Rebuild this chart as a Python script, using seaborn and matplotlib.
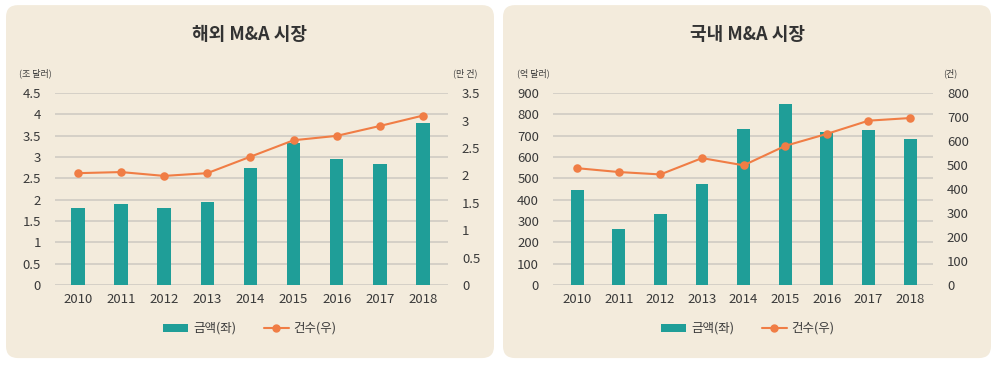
import matplotlib
matplotlib.use('Agg')
import matplotlib.pyplot as plt
import seaborn as sns
import pandas as pd
from matplotlib.patches import FancyBboxPatch
from matplotlib.lines import Line2D
from matplotlib.patches import Patch

# data
years = ['2010', '2011', '2012', '2013', '2014', '2015', '2016', '2017', '2018']

# 해외 M&A 시장
global_amount = [1.81, 1.89, 1.81, 1.94, 2.75, 3.33, 2.96, 2.83, 3.79]   # 조 달러
global_count = [2.04, 2.06, 1.99, 2.04, 2.34, 2.64, 2.72, 2.90, 3.09]    # 만 건

# 국내 M&A 시장
domestic_amount = [444, 264, 334, 475, 733, 850, 717, 725, 686]          # 억 달러
domestic_count = [487, 471, 461, 529, 499, 580, 630, 685, 696]           # 건

sns.set_theme(style='white')
plt.rcParams['font.family'] = ['Noto Sans CJK KR', 'DejaVu Sans']

BG = '#f3ebdc'
TEAL = '#1f9e98'
ORANGE = '#f07d45'
GRID = '#cdc9c1'
TEXT = '#3a3a3a'

fig = plt.figure(figsize=(10, 3.65), dpi=100)
fig.patch.set_facecolor('white')

# panel backgrounds (drawn below the axes)
for x0 in [0.006, 0.503]:
    fig.patches.append(FancyBboxPatch((x0, 0.019), 0.488, 0.967,
                                      boxstyle='round,pad=0,rounding_size=0.012',
                                      transform=fig.transFigure, facecolor=BG,
                                      edgecolor='none', zorder=-5, mutation_aspect=2.7))


def draw_panel(rect, title, amount, count, lmax, lstep, rmax, rstep,
               lunit, runit, lfmt, rfmt, cx, xlim):
    ax = fig.add_axes(rect)
    ax.set_facecolor('none')
    df = pd.DataFrame({'year': years, 'amount': amount, 'count': count})
    sns.barplot(data=df, x='year', y='amount', color=TEAL, width=0.31,
                saturation=1, linewidth=0, ax=ax, zorder=3)
    ax.set_ylim(0, lmax)
    ticks = [i * lstep for i in range(int(round(lmax / lstep)) + 1)]
    ax.set_yticks(ticks)
    ax.set_yticklabels([lfmt(t) for t in ticks])
    ax.set_xlim(*xlim)
    ax.yaxis.grid(True, color=GRID, linewidth=1.1, zorder=0)
    ax.set_axisbelow(True)
    for s in ax.spines.values():
        s.set_visible(False)
    ax.tick_params(axis='both', length=0, labelsize=9.5, colors=TEXT, pad=6)
    ax.tick_params(axis='y', pad=10)
    ax.set_xlabel('')
    ax.set_ylabel('')

    ax2 = ax.twinx()
    sns.pointplot(data=df, x='year', y='count', color=ORANGE, markers='o',
                  markersize=5, linewidth=1.5, ax=ax2)
    ax2.set_ylim(0, rmax)
    rticks = [i * rstep for i in range(int(round(rmax / rstep)) + 1)]
    ax2.set_yticks(rticks)
    ax2.set_yticklabels([rfmt(t) for t in rticks])
    ax2.set_xlim(*xlim)
    for s in ax2.spines.values():
        s.set_visible(False)
    ax2.tick_params(axis='y', length=0, labelsize=9.5, colors=TEXT, pad=10)
    ax2.set_ylabel('')
    ax2.set_xlabel('')

    fig.text(cx, 0.905, title, ha='center', va='center', fontsize=13,
             color='#333333', fontweight='bold')
    fig.text(rect[0] - 0.02, 0.80, lunit, ha='center', va='center',
             fontsize=6.5, color=TEXT)
    fig.text(rect[0] + rect[2] + 0.017, 0.80, runit, ha='center', va='center',
             fontsize=6.5, color=TEXT)

    handles = [Patch(facecolor=TEAL, edgecolor='none'),
               Line2D([0], [0], color=ORANGE, marker='o', markersize=5,
                      linewidth=1.5)]
    fig.legend(handles, ['금액(좌)', '건수(우)'], loc='center',
               bbox_to_anchor=(cx, 0.10), ncol=2, frameon=False, fontsize=9,
               handlelength=2.0, handleheight=0.6, columnspacing=2.2,
               handletextpad=0.4, labelcolor=TEXT)


def fmt_num(t):
    return ('%.1f' % t).rstrip('0').rstrip('.')


draw_panel([0.055, 0.219, 0.393, 0.526], '해외 M&A 시장',
           global_amount, global_count, 4.5, 0.5, 3.5, 0.5,
           '(조 달러)', '(만 건)', fmt_num, fmt_num, 0.25, (-0.53, 8.58))
draw_panel([0.553, 0.219, 0.380, 0.526], '국내 M&A 시장',
           domestic_amount, domestic_count, 900, 100, 800, 100,
           '(억 달러)', '(건)', lambda t: '%d' % t, lambda t: '%d' % t,
           0.748, (-0.58, 8.55))

fig.savefig('out.png', dpi=100, facecolor=fig.get_facecolor())
